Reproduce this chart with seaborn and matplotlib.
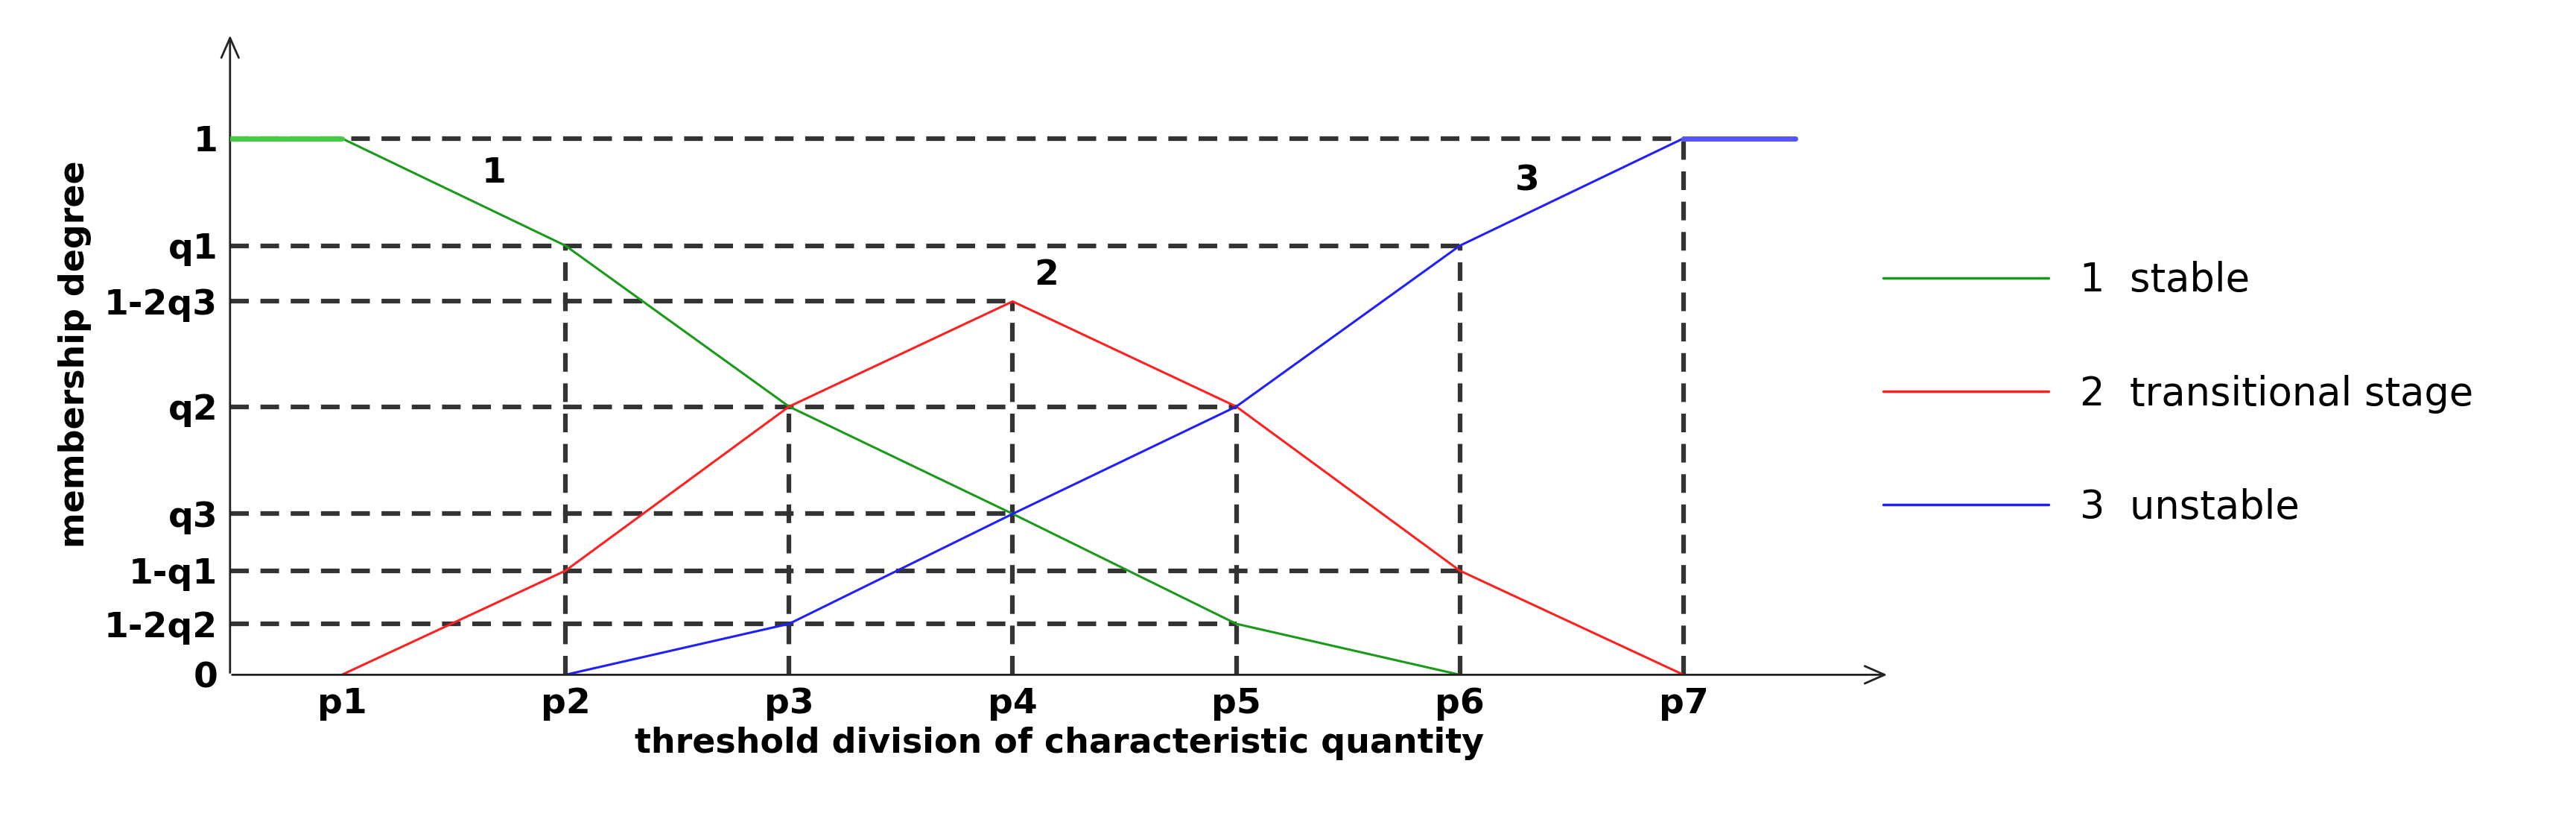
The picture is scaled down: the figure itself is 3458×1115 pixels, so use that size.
import matplotlib
matplotlib.use("Agg")
import matplotlib.pyplot as plt
import seaborn as sns
import pandas as pd

sns.set_theme(style="white")
plt.rcParams['font.family'] = ['DejaVu Sans']
plt.rcParams['text.color'] = 'black'
plt.rcParams['axes.labelcolor'] = 'black'
plt.rcParams['xtick.color'] = 'black'
plt.rcParams['ytick.color'] = 'black'

q1, q23, q2, q3, iq1, i2q2 = 0.80, 0.696, 0.50, 0.30, 0.194, 0.095
x_ticks = [1, 2, 3, 4, 5, 6, 7]
x_labels = ["p1", "p2", "p3", "p4", "p5", "p6", "p7"]
y_ticks = [0, i2q2, iq1, q3, q2, q23, q1, 1]
y_labels = ["0", "1-2q2", "1-q1", "q3", "q2", "1-2q3", "q1", "1"]

stable_x = [0.5, 1, 2, 3, 4, 5, 6]
stable_y = [1, 1, q1, q2, q3, i2q2, 0]
trans_x = [1, 2, 3, 4, 5, 6, 7]
trans_y = [0, iq1, q2, q23, q2, iq1, 0]
unst_x = [2, 3, 4, 5, 6, 7, 7.5]
unst_y = [0, i2q2, q3, q2, q1, 1, 1]

h_guides = [(1, 7), (q1, 6), (q23, 4), (q2, 5), (q3, 4), (iq1, 6), (i2q2, 5)]
v_guides = [(2, q1), (3, q2), (4, q23), (5, q2), (6, q1), (7, 1)]

fig = plt.figure(figsize=(34.58, 11.15), dpi=100)
ax = fig.add_axes([0.0893, 0.188, 0.6441, 0.772])
ax.set_xlim(0.5, 7.92)
ax.set_ylim(0, 1.196)

for y, xe in h_guides:
    ax.plot([0.5, xe], [y, y], ls=(0, (4, 2.5)), color="#333333", lw=4.5, zorder=1)
for x, yt in v_guides:
    ax.plot([x, x], [0, yt], ls=(0, (4, 2.5)), color="#333333", lw=4.5, zorder=1)

df = pd.concat([
    pd.DataFrame({"x": stable_x, "y": stable_y, "s": "1  stable"}),
    pd.DataFrame({"x": trans_x, "y": trans_y, "s": "2  transitional stage"}),
    pd.DataFrame({"x": unst_x, "y": unst_y, "s": "3  unstable"}),
])
sns.lineplot(data=df, x="x", y="y", hue="s", sort=False, estimator=None,
             palette=["#1a9a1a", "#ff2020", "#2020ff"], lw=2.2, ax=ax, zorder=3)
ax.plot([0.5, 1], [1, 1], color="#44cc44", lw=5, zorder=4)
ax.plot([7, 7.5], [1, 1], color="#5555ff", lw=5, zorder=4)

for t, x, y in [("1", 1.68, 0.935), ("2", 4.15, 0.745), ("3", 6.3, 0.92)]:
    ax.text(x, y, t, fontsize=34, fontweight="bold", ha="center", va="center")

for s in ax.spines.values():
    s.set_visible(False)
ax.annotate("", xy=(0, 1.0), xytext=(0, 0), xycoords="axes fraction",
            arrowprops=dict(arrowstyle="->,head_length=1.6,head_width=0.7", lw=2, color="#222222"))
ax.annotate("", xy=(1.0, 0), xytext=(0, 0), xycoords="axes fraction",
            arrowprops=dict(arrowstyle="->,head_length=1.6,head_width=0.7", lw=2, color="#222222"))

ax.set_xticks(x_ticks)
ax.set_xticklabels(x_labels, fontsize=34, fontweight="bold")
ax.set_yticks(y_ticks)
ax.set_yticklabels(y_labels, fontsize=34, fontweight="bold")
ax.tick_params(length=0, pad=12)
ax.set_xlabel("threshold division of characteristic quantity", fontsize=33, fontweight="bold", labelpad=6)
ax.set_ylabel("membership degree", fontsize=33, fontweight="bold", labelpad=12)

leg = ax.legend(loc="upper left", bbox_to_anchor=(0.975, 0.70), frameon=False,
                fontsize=38, handlelength=4.2, labelspacing=1.9, handletextpad=0.8)
for l in leg.get_lines():
    l.set_linewidth(2.5)

fig.savefig("out.png", dpi=100)
